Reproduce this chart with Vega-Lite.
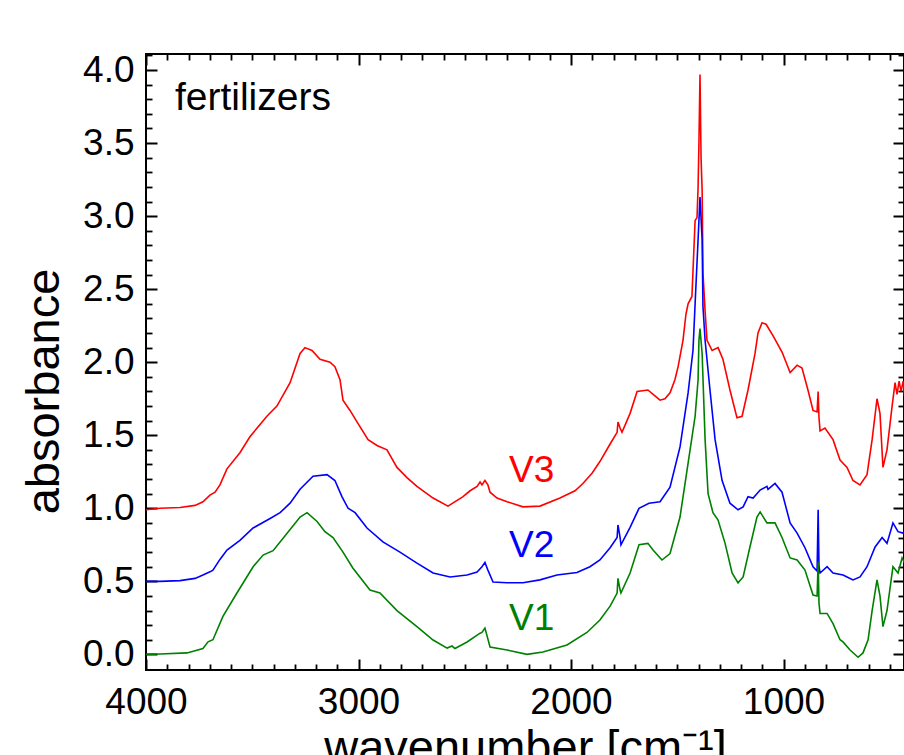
{
  "$schema": "https://vega.github.io/schema/vega-lite/v6.json",
  "width": 758,
  "height": 616,
  "autosize": {"type": "none"},
  "padding": {"left": 146, "top": 54, "right": 0, "bottom": 85},
  "config": {
    "font": "Liberation Sans",
    "view": {"stroke": "black", "strokeWidth": 2},
    "axis": {"domain": false, "grid": false, "tickColor": "black", "labelColor": "black", "titleColor": "black", "labelFont": "Liberation Sans", "titleFont": "Liberation Sans"}
  },
  "datasets": {
    "spectra": [
      {"series":"V3","wn":4000,"a":0.99},{"series":"V3","wn":3934,"a":1.0},{"series":"V3","wn":3840,"a":1.005},{"series":"V3","wn":3769,"a":1.02},{"series":"V3","wn":3732,"a":1.045},{"series":"V3","wn":3699,"a":1.09},{"series":"V3","wn":3675,"a":1.11},{"series":"V3","wn":3652,"a":1.16},{"series":"V3","wn":3619,"a":1.27},{"series":"V3","wn":3558,"a":1.38},{"series":"V3","wn":3511,"a":1.49},{"series":"V3","wn":3431,"a":1.63},{"series":"V3","wn":3384,"a":1.7},{"series":"V3","wn":3322,"a":1.86},{"series":"V3","wn":3275,"a":2.06},{"series":"V3","wn":3252,"a":2.1},{"series":"V3","wn":3219,"a":2.08},{"series":"V3","wn":3181,"a":2.02},{"series":"V3","wn":3134,"a":2.0},{"series":"V3","wn":3111,"a":1.97},{"series":"V3","wn":3087,"a":1.88},{"series":"V3","wn":3073,"a":1.74},{"series":"V3","wn":3040,"a":1.67},{"series":"V3","wn":3002,"a":1.58},{"series":"V3","wn":2955,"a":1.47},{"series":"V3","wn":2913,"a":1.43},{"series":"V3","wn":2866,"a":1.4},{"series":"V3","wn":2819,"a":1.28},{"series":"V3","wn":2772,"a":1.21},{"series":"V3","wn":2725,"a":1.15},{"series":"V3","wn":2649,"a":1.07},{"series":"V3","wn":2579,"a":1.015},{"series":"V3","wn":2508,"a":1.08},{"series":"V3","wn":2475,"a":1.12},{"series":"V3","wn":2442,"a":1.15},{"series":"V3","wn":2428,"a":1.18},{"series":"V3","wn":2419,"a":1.16},{"series":"V3","wn":2405,"a":1.19},{"series":"V3","wn":2391,"a":1.16},{"series":"V3","wn":2381,"a":1.11},{"series":"V3","wn":2348,"a":1.07},{"series":"V3","wn":2301,"a":1.045},{"series":"V3","wn":2226,"a":1.01},{"series":"V3","wn":2146,"a":1.015},{"series":"V3","wn":2052,"a":1.07},{"series":"V3","wn":1981,"a":1.12},{"series":"V3","wn":1944,"a":1.17},{"series":"V3","wn":1901,"a":1.24},{"series":"V3","wn":1864,"a":1.32},{"series":"V3","wn":1816,"a":1.44},{"series":"V3","wn":1783,"a":1.52},{"series":"V3","wn":1779,"a":1.59},{"series":"V3","wn":1769,"a":1.55},{"series":"V3","wn":1760,"a":1.52},{"series":"V3","wn":1722,"a":1.65},{"series":"V3","wn":1689,"a":1.8},{"series":"V3","wn":1638,"a":1.81},{"series":"V3","wn":1605,"a":1.77},{"series":"V3","wn":1581,"a":1.74},{"series":"V3","wn":1558,"a":1.75},{"series":"V3","wn":1534,"a":1.79},{"series":"V3","wn":1511,"a":1.88},{"series":"V3","wn":1496,"a":1.97},{"series":"V3","wn":1473,"a":2.15},{"series":"V3","wn":1459,"a":2.33},{"series":"V3","wn":1449,"a":2.4},{"series":"V3","wn":1431,"a":2.45},{"series":"V3","wn":1416,"a":2.97},{"series":"V3","wn":1407,"a":2.99},{"series":"V3","wn":1402,"a":3.2},{"series":"V3","wn":1398,"a":3.5},{"series":"V3","wn":1393,"a":3.97},{"series":"V3","wn":1388,"a":3.4},{"series":"V3","wn":1383,"a":3.18},{"series":"V3","wn":1379,"a":2.61},{"series":"V3","wn":1369,"a":2.35},{"series":"V3","wn":1360,"a":2.15},{"series":"V3","wn":1336,"a":2.08},{"series":"V3","wn":1308,"a":2.1},{"series":"V3","wn":1285,"a":2.02},{"series":"V3","wn":1252,"a":1.81},{"series":"V3","wn":1219,"a":1.62},{"series":"V3","wn":1195,"a":1.63},{"series":"V3","wn":1167,"a":1.81},{"series":"V3","wn":1134,"a":2.06},{"series":"V3","wn":1120,"a":2.2},{"series":"V3","wn":1101,"a":2.27},{"series":"V3","wn":1082,"a":2.26},{"series":"V3","wn":1049,"a":2.18},{"series":"V3","wn":1007,"a":2.07},{"series":"V3","wn":969,"a":1.93},{"series":"V3","wn":936,"a":1.98},{"series":"V3","wn":913,"a":1.96},{"series":"V3","wn":885,"a":1.81},{"series":"V3","wn":861,"a":1.67},{"series":"V3","wn":842,"a":1.66},{"series":"V3","wn":837,"a":1.8},{"series":"V3","wn":833,"a":1.62},{"series":"V3","wn":828,"a":1.53},{"series":"V3","wn":805,"a":1.55},{"series":"V3","wn":767,"a":1.47},{"series":"V3","wn":734,"a":1.33},{"series":"V3","wn":701,"a":1.28},{"series":"V3","wn":673,"a":1.19},{"series":"V3","wn":640,"a":1.16},{"series":"V3","wn":607,"a":1.23},{"series":"V3","wn":583,"a":1.47},{"series":"V3","wn":560,"a":1.75},{"series":"V3","wn":546,"a":1.65},{"series":"V3","wn":532,"a":1.28},{"series":"V3","wn":513,"a":1.4},{"series":"V3","wn":489,"a":1.7},{"series":"V3","wn":475,"a":1.86},{"series":"V3","wn":466,"a":1.78},{"series":"V3","wn":456,"a":1.87},{"series":"V3","wn":447,"a":1.8},{"series":"V3","wn":437,"a":1.87},{"series":"V3","wn":428,"a":1.74},{"series":"V3","wn":414,"a":1.8},

      {"series":"V2","wn":4000,"a":0.5},{"series":"V2","wn":3934,"a":0.5},{"series":"V2","wn":3840,"a":0.505},{"series":"V2","wn":3769,"a":0.52},{"series":"V2","wn":3732,"a":0.543},{"series":"V2","wn":3699,"a":0.565},{"series":"V2","wn":3685,"a":0.577},{"series":"V2","wn":3652,"a":0.65},{"series":"V2","wn":3619,"a":0.714},{"series":"V2","wn":3558,"a":0.78},{"series":"V2","wn":3496,"a":0.865},{"series":"V2","wn":3416,"a":0.93},{"series":"V2","wn":3369,"a":0.97},{"series":"V2","wn":3322,"a":1.035},{"series":"V2","wn":3275,"a":1.13},{"series":"V2","wn":3214,"a":1.22},{"series":"V2","wn":3148,"a":1.23},{"series":"V2","wn":3111,"a":1.19},{"series":"V2","wn":3078,"a":1.08},{"series":"V2","wn":3049,"a":1.0},{"series":"V2","wn":3016,"a":0.97},{"series":"V2","wn":2960,"a":0.865},{"series":"V2","wn":2885,"a":0.77},{"series":"V2","wn":2805,"a":0.7},{"series":"V2","wn":2725,"a":0.625},{"series":"V2","wn":2649,"a":0.557},{"series":"V2","wn":2569,"a":0.53},{"series":"V2","wn":2489,"a":0.543},{"series":"V2","wn":2442,"a":0.564},{"series":"V2","wn":2419,"a":0.6},{"series":"V2","wn":2405,"a":0.63},{"series":"V2","wn":2391,"a":0.577},{"series":"V2","wn":2367,"a":0.495},{"series":"V2","wn":2301,"a":0.49},{"series":"V2","wn":2226,"a":0.49},{"series":"V2","wn":2146,"a":0.51},{"series":"V2","wn":2066,"a":0.543},{"series":"V2","wn":1972,"a":0.56},{"series":"V2","wn":1911,"a":0.6},{"series":"V2","wn":1864,"a":0.646},{"series":"V2","wn":1816,"a":0.73},{"series":"V2","wn":1783,"a":0.8},{"series":"V2","wn":1779,"a":0.886},{"series":"V2","wn":1769,"a":0.8},{"series":"V2","wn":1765,"a":0.75},{"series":"V2","wn":1722,"a":0.87},{"series":"V2","wn":1680,"a":1.0},{"series":"V2","wn":1633,"a":1.035},{"series":"V2","wn":1581,"a":1.045},{"series":"V2","wn":1534,"a":1.145},{"series":"V2","wn":1487,"a":1.42},{"series":"V2","wn":1449,"a":1.79},{"series":"V2","wn":1426,"a":2.08},{"series":"V2","wn":1416,"a":2.4},{"series":"V2","wn":1402,"a":2.84},{"series":"V2","wn":1393,"a":3.13},{"series":"V2","wn":1383,"a":2.84},{"series":"V2","wn":1379,"a":2.38},{"series":"V2","wn":1369,"a":2.15},{"series":"V2","wn":1346,"a":1.81},{"series":"V2","wn":1322,"a":1.47},{"series":"V2","wn":1289,"a":1.19},{"series":"V2","wn":1252,"a":1.035},{"series":"V2","wn":1214,"a":0.99},{"series":"V2","wn":1190,"a":1.01},{"series":"V2","wn":1167,"a":1.08},{"series":"V2","wn":1143,"a":1.07},{"series":"V2","wn":1110,"a":1.125},{"series":"V2","wn":1078,"a":1.15},{"series":"V2","wn":1073,"a":1.13},{"series":"V2","wn":1040,"a":1.17},{"series":"V2","wn":1007,"a":1.11},{"series":"V2","wn":969,"a":0.9},{"series":"V2","wn":936,"a":0.83},{"series":"V2","wn":899,"a":0.73},{"series":"V2","wn":861,"a":0.6},{"series":"V2","wn":842,"a":0.57},{"series":"V2","wn":837,"a":0.99},{"series":"V2","wn":833,"a":0.6},{"series":"V2","wn":828,"a":0.557},{"series":"V2","wn":795,"a":0.6},{"series":"V2","wn":767,"a":0.557},{"series":"V2","wn":720,"a":0.543},{"series":"V2","wn":701,"a":0.53},{"series":"V2","wn":673,"a":0.51},{"series":"V2","wn":640,"a":0.53},{"series":"V2","wn":607,"a":0.6},{"series":"V2","wn":569,"a":0.735},{"series":"V2","wn":536,"a":0.8},{"series":"V2","wn":513,"a":0.76},{"series":"V2","wn":485,"a":0.9},{"series":"V2","wn":461,"a":0.84},{"series":"V2","wn":437,"a":0.83},{"series":"V2","wn":414,"a":0.82},

      {"series":"V1","wn":4000,"a":0.0},{"series":"V1","wn":3934,"a":0.003},{"series":"V1","wn":3807,"a":0.01},{"series":"V1","wn":3732,"a":0.04},{"series":"V1","wn":3708,"a":0.086},{"series":"V1","wn":3685,"a":0.1},{"series":"V1","wn":3638,"a":0.26},{"series":"V1","wn":3572,"a":0.42},{"series":"V1","wn":3496,"a":0.6},{"series":"V1","wn":3449,"a":0.68},{"series":"V1","wn":3402,"a":0.71},{"series":"V1","wn":3336,"a":0.83},{"series":"V1","wn":3275,"a":0.94},{"series":"V1","wn":3242,"a":0.97},{"series":"V1","wn":3195,"a":0.91},{"series":"V1","wn":3158,"a":0.84},{"series":"V1","wn":3120,"a":0.8},{"series":"V1","wn":3073,"a":0.7},{"series":"V1","wn":3026,"a":0.59},{"series":"V1","wn":2946,"a":0.44},{"series":"V1","wn":2899,"a":0.42},{"series":"V1","wn":2819,"a":0.3},{"series":"V1","wn":2725,"a":0.19},{"series":"V1","wn":2649,"a":0.098},{"series":"V1","wn":2583,"a":0.043},{"series":"V1","wn":2560,"a":0.057},{"series":"V1","wn":2546,"a":0.04},{"series":"V1","wn":2489,"a":0.085},{"series":"V1","wn":2428,"a":0.145},{"series":"V1","wn":2419,"a":0.15},{"series":"V1","wn":2405,"a":0.18},{"series":"V1","wn":2381,"a":0.05},{"series":"V1","wn":2301,"a":0.03},{"series":"V1","wn":2207,"a":0.0},{"series":"V1","wn":2132,"a":0.016},{"series":"V1","wn":2019,"a":0.064},{"series":"V1","wn":1925,"a":0.15},{"series":"V1","wn":1864,"a":0.235},{"series":"V1","wn":1816,"a":0.33},{"series":"V1","wn":1783,"a":0.42},{"series":"V1","wn":1779,"a":0.52},{"series":"V1","wn":1769,"a":0.44},{"series":"V1","wn":1765,"a":0.42},{"series":"V1","wn":1722,"a":0.557},{"series":"V1","wn":1680,"a":0.75},{"series":"V1","wn":1638,"a":0.76},{"series":"V1","wn":1614,"a":0.715},{"series":"V1","wn":1572,"a":0.646},{"series":"V1","wn":1534,"a":0.69},{"series":"V1","wn":1487,"a":0.94},{"series":"V1","wn":1449,"a":1.31},{"series":"V1","wn":1416,"a":1.63},{"series":"V1","wn":1402,"a":1.88},{"series":"V1","wn":1398,"a":2.15},{"series":"V1","wn":1393,"a":2.23},{"series":"V1","wn":1383,"a":2.06},{"series":"V1","wn":1369,"a":1.47},{"series":"V1","wn":1355,"a":1.1},{"series":"V1","wn":1332,"a":0.97},{"series":"V1","wn":1308,"a":0.92},{"series":"V1","wn":1275,"a":0.76},{"series":"V1","wn":1242,"a":0.557},{"series":"V1","wn":1214,"a":0.49},{"series":"V1","wn":1190,"a":0.53},{"series":"V1","wn":1158,"a":0.735},{"series":"V1","wn":1125,"a":0.94},{"series":"V1","wn":1110,"a":0.975},{"series":"V1","wn":1078,"a":0.9},{"series":"V1","wn":1040,"a":0.9},{"series":"V1","wn":1007,"a":0.8},{"series":"V1","wn":969,"a":0.66},{"series":"V1","wn":936,"a":0.646},{"series":"V1","wn":899,"a":0.577},{"series":"V1","wn":861,"a":0.406},{"series":"V1","wn":842,"a":0.4},{"series":"V1","wn":837,"a":0.63},{"series":"V1","wn":833,"a":0.35},{"series":"V1","wn":828,"a":0.28},{"series":"V1","wn":795,"a":0.28},{"series":"V1","wn":767,"a":0.21},{"series":"V1","wn":734,"a":0.1},{"series":"V1","wn":720,"a":0.085},{"series":"V1","wn":687,"a":0.03},{"series":"V1","wn":649,"a":-0.02},{"series":"V1","wn":626,"a":0.01},{"series":"V1","wn":602,"a":0.1},{"series":"V1","wn":583,"a":0.3},{"series":"V1","wn":560,"a":0.51},{"series":"V1","wn":546,"a":0.4},{"series":"V1","wn":532,"a":0.19},{"series":"V1","wn":513,"a":0.3},{"series":"V1","wn":485,"a":0.6},{"series":"V1","wn":461,"a":0.557},{"series":"V1","wn":442,"a":0.66},{"series":"V1","wn":428,"a":0.62},{"series":"V1","wn":414,"a":0.65}
    ],
    "labels": [
      {"label":"fertilizers","series":"note","x":3864,"y":3.728},
      {"label":"V3","series":"V3","x":2185,"y":1.18},
      {"label":"V2","series":"V2","x":2185,"y":0.666},
      {"label":"V1","series":"V1","x":2185,"y":0.167}
    ]
  },
  "layer": [
    {
      "data": {"name": "spectra"},
      "mark": {"type": "line", "strokeWidth": 1.6, "clip": true},
      "encoding": {
        "x": {"field": "wn", "type": "quantitative",
          "scale": {"domain": [433, 4000], "reverse": true, "nice": false, "zero": false},
          "axis": {"orient": "bottom", "values": [4000, 3000, 2000, 1000], "format": "d", "ticks": false, "labelFontSize": 37, "labelPadding": 14, "labelFlush": false, "labelOverlap": false, "title": "wavenumber [cm⁻¹]", "titleFontSize": 47, "titleFontWeight": "normal", "titleY": 92, "titleBaseline": "alphabetic"}},
        "y": {"field": "a", "type": "quantitative",
          "scale": {"domain": [-0.107, 4.11], "nice": false, "zero": false},
          "axis": {"orient": "left", "values": [0, 0.5, 1, 1.5, 2, 2.5, 3, 3.5, 4], "format": ".1f", "ticks": false, "labelFontSize": 37, "labelPadding": 12, "labelFlush": false, "labelOverlap": false, "title": "absorbance", "titleFontSize": 47, "titleFontWeight": "normal", "titleX": -88, "titleY": 337, "titleBaseline": "alphabetic"}},
        "color": {"field": "series", "type": "nominal",
          "scale": {"domain": ["V1", "V2", "V3", "note"], "range": ["#008000", "#0000ff", "#ff0000", "#000000"]},
          "legend": null}
      }
    },
    {
      "data": {"name": "labels"},
      "mark": {"type": "point", "opacity": 0},
      "encoding": {
        "x": {"field": "x", "type": "quantitative", "axis": {"orient": "bottom", "values": [4000, 3000, 2000, 1000], "labels": false, "tickSize": -11, "tickWidth": 2, "title": null}},
        "y": {"field": "y", "type": "quantitative", "axis": {"orient": "left", "values": [0, 0.5, 1, 1.5, 2, 2.5, 3, 3.5, 4], "labels": false, "tickSize": -11, "tickWidth": 2, "title": null}}
      }
    },
    {
      "data": {"name": "labels"},
      "mark": {"type": "point", "opacity": 0},
      "encoding": {
        "x": {"field": "x", "type": "quantitative", "axis": {"orient": "bottom", "values": [500,600,700,800,900,1100,1200,1300,1400,1500,1600,1700,1800,1900,2100,2200,2300,2400,2500,2600,2700,2800,2900,3100,3200,3300,3400,3500,3600,3700,3800,3900], "labels": false, "tickSize": -6, "tickWidth": 1.8, "title": null}},
        "y": {"field": "y", "type": "quantitative", "axis": {"orient": "left", "values": [0.1,0.2,0.3,0.4,0.6,0.7,0.8,0.9,1.1,1.2,1.3,1.4,1.6,1.7,1.8,1.9,2.1,2.2,2.3,2.4,2.6,2.7,2.8,2.9,3.1,3.2,3.3,3.4,3.6,3.7,3.8,3.9,4.1], "labels": false, "tickSize": -6, "tickWidth": 1.8, "title": null}}
      }
    },
    {
      "data": {"name": "labels"},
      "mark": {"type": "point", "opacity": 0},
      "encoding": {
        "x": {"field": "x", "type": "quantitative", "axis": {"orient": "top", "values": [4000, 3000, 2000, 1000], "labels": false, "tickSize": -11, "tickWidth": 2, "title": null}},
        "y": {"field": "y", "type": "quantitative", "axis": {"orient": "right", "values": [0, 0.5, 1, 1.5, 2, 2.5, 3, 3.5, 4], "labels": false, "tickSize": -11, "tickWidth": 2, "title": null}}
      }
    },
    {
      "data": {"name": "labels"},
      "mark": {"type": "point", "opacity": 0},
      "encoding": {
        "x": {"field": "x", "type": "quantitative", "axis": {"orient": "top", "values": [500,600,700,800,900,1100,1200,1300,1400,1500,1600,1700,1800,1900,2100,2200,2300,2400,2500,2600,2700,2800,2900,3100,3200,3300,3400,3500,3600,3700,3800,3900], "labels": false, "tickSize": -6, "tickWidth": 1.8, "title": null}},
        "y": {"field": "y", "type": "quantitative", "axis": {"orient": "right", "values": [0.1,0.2,0.3,0.4,0.6,0.7,0.8,0.9,1.1,1.2,1.3,1.4,1.6,1.7,1.8,1.9,2.1,2.2,2.3,2.4,2.6,2.7,2.8,2.9,3.1,3.2,3.3,3.4,3.6,3.7,3.8,3.9,4.1], "labels": false, "tickSize": -6, "tickWidth": 1.8, "title": null}}
      }
    },
    {
      "data": {"name": "labels"},
      "transform": [{"filter": "datum.series === 'note'"}],
      "mark": {"type": "text", "align": "left", "baseline": "alphabetic", "fontSize": 39, "font": "Liberation Sans"},
      "encoding": {
        "x": {"field": "x", "type": "quantitative", "axis": null},
        "y": {"field": "y", "type": "quantitative", "axis": null},
        "text": {"field": "label"},
        "color": {"field": "series", "type": "nominal", "legend": null}
      }
    },
    {
      "data": {"name": "labels"},
      "transform": [{"filter": "datum.series !== 'note'"}],
      "mark": {"type": "text", "align": "center", "baseline": "alphabetic", "fontSize": 37, "font": "Liberation Sans"},
      "encoding": {
        "x": {"field": "x", "type": "quantitative", "axis": null},
        "y": {"field": "y", "type": "quantitative", "axis": null},
        "text": {"field": "label"},
        "color": {"field": "series", "type": "nominal", "legend": null}
      }
    }
  ],
  "resolve": {"axis": {"x": "independent", "y": "independent"}}
}
